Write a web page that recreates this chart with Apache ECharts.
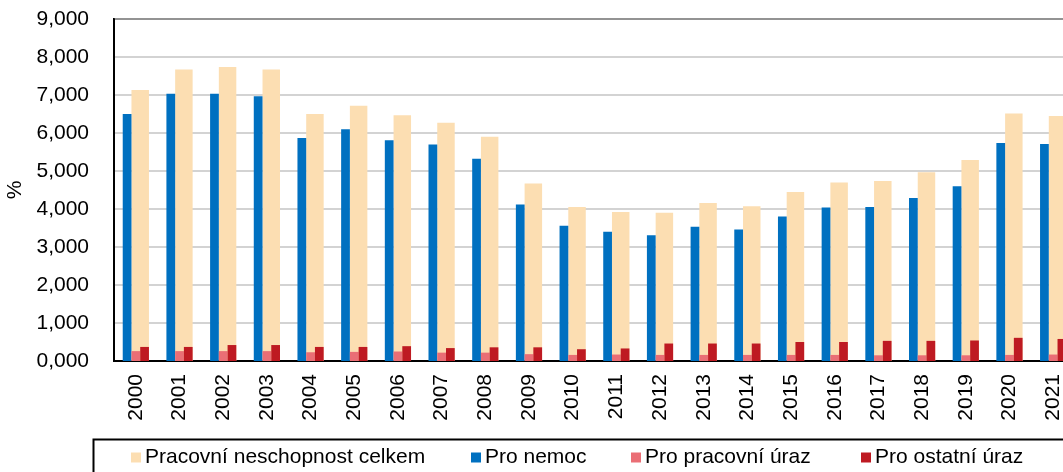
<!DOCTYPE html>
<html>
<head>
<meta charset="utf-8">
<script src="https://cdn.jsdelivr.net/npm/echarts@6/dist/echarts.min.js"></script>
<style>
  html, body { margin: 0; padding: 0; background: #ffffff; }
  #chart { width: 1063px; height: 472px; }
</style>
</head>
<body>
<div id="chart"></div>
<script>
const years = ['2000', '2001', '2002', '2003', '2004', '2005', '2006', '2007', '2008', '2009', '2010',
  '2011', '2012', '2013', '2014', '2015', '2016', '2017', '2018', '2019', '2020', '2021']

const celkem = [7.13, 7.67, 7.74, 7.67, 6.50, 6.72, 6.47, 6.27, 5.90, 4.67, 4.05,
  3.92, 3.90, 4.16, 4.07, 4.45, 4.70, 4.74, 4.97, 5.29, 6.51, 6.45]
const nemoc = [6.50, 7.03, 7.03, 6.97, 5.87, 6.10, 5.81, 5.70, 5.32, 4.12, 3.56,
  3.40, 3.31, 3.53, 3.46, 3.80, 4.04, 4.05, 4.29, 4.60, 5.74, 5.71]
const pracovniUraz = [0.26, 0.26, 0.26, 0.26, 0.23, 0.24, 0.25, 0.22, 0.22, 0.18, 0.16,
  0.17, 0.16, 0.16, 0.16, 0.16, 0.16, 0.15, 0.15, 0.15, 0.16, 0.17]
const ostatniUraz = [0.37, 0.37, 0.42, 0.42, 0.37, 0.37, 0.39, 0.34, 0.36, 0.36, 0.31,
  0.33, 0.46, 0.46, 0.46, 0.50, 0.50, 0.53, 0.53, 0.54, 0.61, 0.58]

const font = "'Liberation Sans', Arial, sans-serif"
const barW = 8.74

const chart = echarts.init(document.getElementById('chart'))

const legendItem = (name, left) => ({
  data: [name],
  left: left,
  top: 447,
  padding: 0,
  itemWidth: 10,
  itemHeight: 10,
  icon: 'rect',
  selectedMode: false,
  textStyle: { fontFamily: font, fontSize: 21, color: '#000000', padding: [0, 0, 0, -1] }
})

const option = {
  backgroundColor: '#ffffff',
  animation: false,
  grid: {
    left: 114,
    top: 19,
    width: 961,
    height: 342,
    outerBoundsMode: 'none',
    show: true,
    borderColor: '#000000',
    borderWidth: 2,
    backgroundColor: 'transparent'
  },
  legend: [
    legendItem('Pracovní neschopnost celkem', 131),
    legendItem('Pro nemoc', 471),
    legendItem('Pro pracovní úraz', 631),
    legendItem('Pro ostatní úraz', 861)
  ],
  graphic: [{
    type: 'rect',
    left: 91,
    top: 437,
    shape: { width: 1000, height: 100 },
    style: { fill: 'none', stroke: '#000000', lineWidth: 2 },
    silent: true
  }],
  xAxis: [{
    type: 'category',
    data: years,
    axisLine: { lineStyle: { color: '#000000', width: 2 } },
    axisTick: { show: false },
    axisLabel: {
      rotate: 90,
      margin: 13,
      fontFamily: font,
      fontSize: 21,
      color: '#000000'
    }
  }, {
    type: 'category',
    data: years,
    show: false
  }],
  yAxis: {
    type: 'value',
    min: 0,
    max: 9,
    interval: 1,
    name: '%',
    nameLocation: 'middle',
    nameRotate: 90,
    nameGap: 86,
    nameTextStyle: { fontFamily: font, fontSize: 21, color: '#000000' },
    axisLine: { show: true, lineStyle: { color: '#000000', width: 2 } },
    axisTick: { show: false },
    axisLabel: {
      margin: 25,
      fontFamily: font,
      fontSize: 21,
      color: '#000000',
      formatter: v => v.toFixed(3).replace('.', ',')
    },
    splitLine: { lineStyle: { color: '#c4c4c4', width: 1.5 } }
  },
  series: [{
    name: 'spacer',
    type: 'bar',
    xAxisIndex: 1,
    barWidth: barW,
    barGap: '0%',
    data: years.map(() => '-'),
    itemStyle: { color: 'transparent' },
    z: 1
  }, {
    name: 'Pracovní neschopnost celkem',
    type: 'bar',
    xAxisIndex: 1,
    barWidth: barW * 2,
    barGap: '0%',
    data: celkem,
    itemStyle: { color: '#fcdeb2' },
    z: 1
  }, {
    name: 'Pro nemoc',
    type: 'bar',
    xAxisIndex: 0,
    barWidth: barW,
    barGap: '0%',
    data: nemoc,
    itemStyle: { color: '#0070c0' },
    z: 2
  }, {
    name: 'Pro pracovní úraz',
    type: 'bar',
    xAxisIndex: 0,
    barWidth: barW,
    barGap: '0%',
    data: pracovniUraz,
    itemStyle: { color: '#ea6e75' },
    z: 2
  }, {
    name: 'Pro ostatní úraz',
    type: 'bar',
    xAxisIndex: 0,
    barWidth: barW,
    barGap: '0%',
    data: ostatniUraz,
    itemStyle: { color: '#be1a22' },
    z: 2
  }]
}

chart.setOption(option)
</script>
</body>
</html>
